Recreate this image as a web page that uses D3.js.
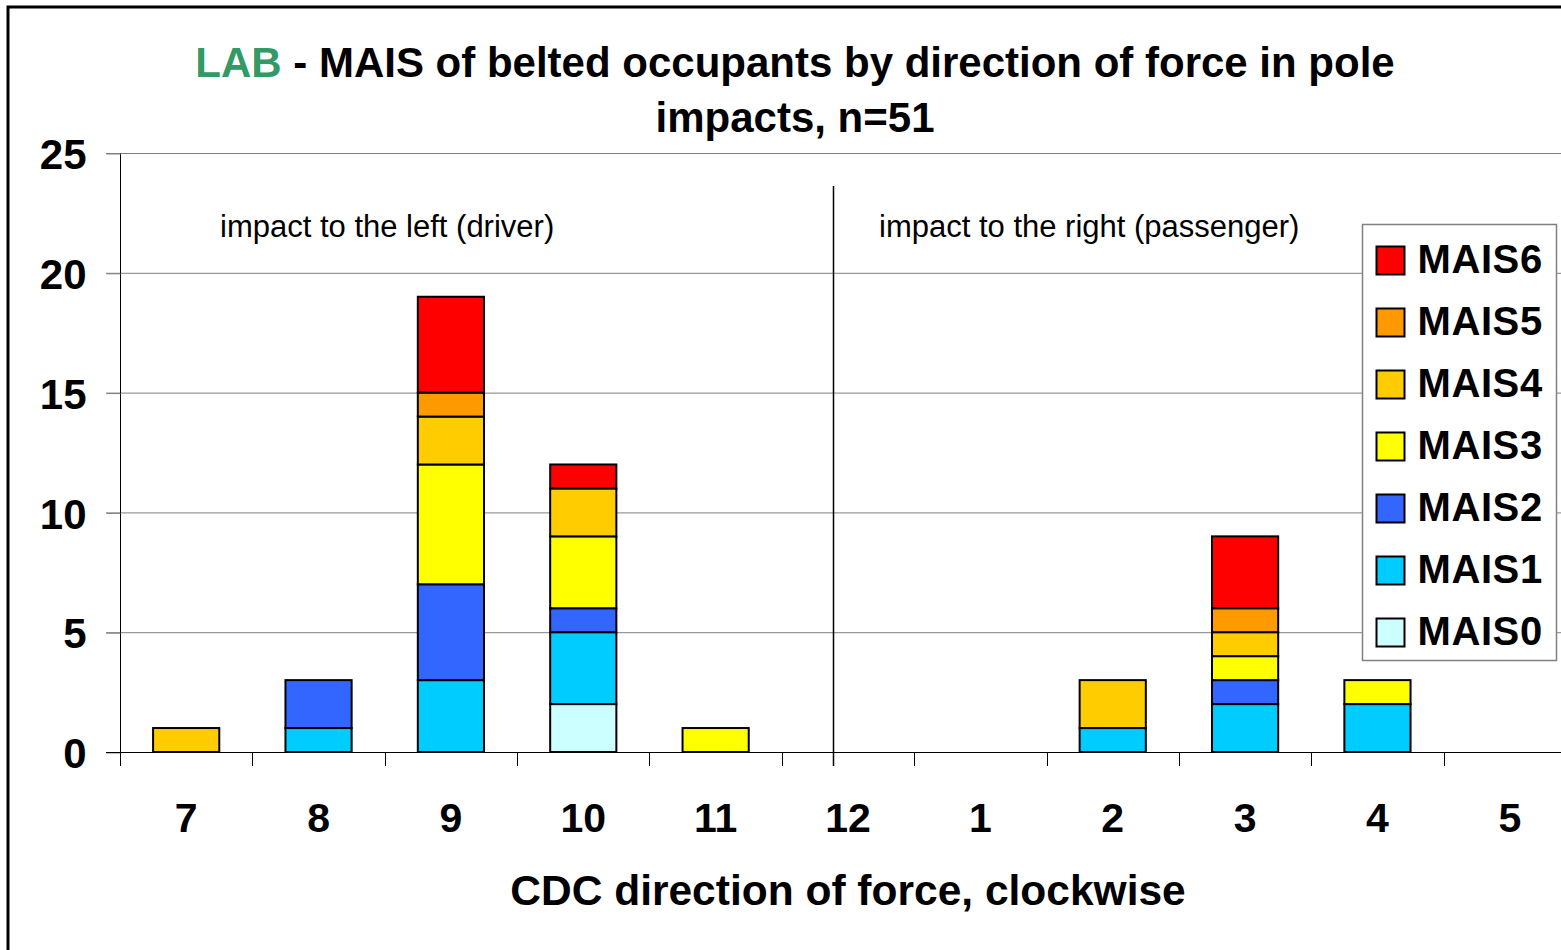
<!DOCTYPE html>
<html lang="en">
<head>
    <meta charset="utf-8">
    <style>
        body { margin: 0; background: #fff; }
        svg { display: block; font-family: "Liberation Sans", Arial, sans-serif; }
        .grid line { stroke: #808080; stroke-width: 1; }
        .bar rect { stroke: #000; stroke-width: 2; }
    </style>
    <script src="https://cdn.jsdelivr.net/npm/d3@7"></script>
</head>
<body>
<svg id="mainSVG" width="1561" height="950"></svg>
<script>
    // direction of force (clock position)
    var directions = ["7", "8", "9", "10", "11", "12", "1", "2", "3", "4", "5"];
    var levels = ["MAIS0", "MAIS1", "MAIS2", "MAIS3", "MAIS4", "MAIS5", "MAIS6"];
    var colors = ["#CCFFFF", "#00CCFF", "#3366FF", "#FFFF00", "#FFCC00", "#FF9900", "#FF0000"];

    var mais0 = [0, 0, 0, 2, 0, 0, 0, 0, 0, 0, 0];
    var mais1 = [0, 1, 3, 3, 0, 0, 0, 1, 2, 2, 0];
    var mais2 = [0, 2, 4, 1, 0, 0, 0, 0, 1, 0, 0];
    var mais3 = [0, 0, 5, 3, 1, 0, 0, 0, 1, 1, 0];
    var mais4 = [1, 0, 2, 2, 0, 0, 0, 2, 1, 0, 0];
    var mais5 = [0, 0, 1, 0, 0, 0, 0, 0, 1, 0, 0];
    var mais6 = [0, 0, 4, 1, 0, 0, 0, 0, 3, 0, 0];
    var yTicks = [0, 5, 10, 15, 20, 25];

    var series = [mais0, mais1, mais2, mais3, mais4, mais5, mais6];
    var rows = directions.map(function (d, i) {
        var r = { dir: d };
        levels.forEach(function (l, j) { r[l] = series[j][i]; });
        return r;
    });

    var svg = d3.select("#mainSVG");
    var plotLeft = 120, plotRight = 1576, plotTop = 153, plotBottom = 752;

    var x = d3.scaleBand().domain(directions).range([plotLeft, plotRight]).paddingInner(0.5).paddingOuter(0.25);
    var y = d3.scaleLinear().domain([0, 25]).range([plotBottom, plotTop]);
    var color = d3.scaleOrdinal().domain(levels).range(colors);

    // outer frame
    svg.append("rect")
        .attr("x", 8).attr("y", 7)
        .attr("width", 1600).attr("height", 1000)
        .attr("fill", "none").attr("stroke", "#000").attr("stroke-width", 3);

    // title
    var title = svg.append("text")
        .attr("x", 795).attr("y", 77)
        .attr("text-anchor", "middle")
        .attr("font-size", 42).attr("font-weight", "bold");
    title.append("tspan").attr("fill", "#339966").text("LAB");
    title.append("tspan").attr("fill", "#000").text(" - MAIS of belted occupants by direction of force in pole");
    svg.append("text")
        .attr("x", 795).attr("y", 132)
        .attr("text-anchor", "middle")
        .attr("font-size", 42).attr("font-weight", "bold")
        .text("impacts, n=51");

    // grid
    svg.append("g").attr("class", "grid")
        .selectAll("line")
        .data(yTicks.filter(function (d) { return d > 0; }))
        .enter().append("line")
        .attr("x1", 106).attr("x2", 1561)
        .attr("y1", function (d) { return y(d) + 0.5; })
        .attr("y2", function (d) { return y(d) + 0.5; });

    // y axis
    var yAxis = svg.append("g")
        .attr("transform", "translate(" + (plotLeft + 0.5) + ",0.5)")
        .call(d3.axisLeft(y).tickValues(yTicks).tickSize(14).tickPadding(20));
    yAxis.selectAll("line").attr("stroke", "#808080");
    yAxis.select(".domain").attr("stroke", "#000").attr("d", "M0," + plotTop + "V" + plotBottom);
    yAxis.selectAll("text")
        .attr("font-size", 42).attr("font-weight", "bold")
        .attr("font-family", "Liberation Sans, Arial, sans-serif")
        .attr("fill", "#000").attr("dy", "0.36em");

    // bars
    var stack = d3.stack().keys(levels)(rows);
    svg.append("g").attr("class", "bar")
        .selectAll("g")
        .data(stack)
        .enter().append("g")
        .attr("fill", function (d) { return color(d.key); })
        .selectAll("rect")
        .data(function (d) { return d.filter(function (p) { return p[1] > p[0]; }); })
        .enter().append("rect")
        .attr("x", function (d) { return x(d.data.dir); })
        .attr("width", x.bandwidth())
        .attr("y", function (d) { return y(d[1]); })
        .attr("height", function (d) { return y(d[0]) - y(d[1]); });

    // x axis: baseline and ticks between categories
    svg.append("line")
        .attr("x1", 106).attr("x2", 1561)
        .attr("y1", plotBottom + 0.5).attr("y2", plotBottom + 0.5)
        .attr("stroke", "#000").attr("stroke-width", 1);
    var xAxis = svg.append("g")
        .attr("transform", "translate(0," + plotBottom + ")")
        .call(d3.axisBottom(x).tickSize(0).tickPadding(51));
    xAxis.select(".domain").remove();
    xAxis.selectAll("text")
        .attr("font-size", 41).attr("font-weight", "bold")
        .attr("font-family", "Liberation Sans, Arial, sans-serif")
        .attr("fill", "#000");
    svg.append("g")
        .selectAll("line")
        .data(directions)
        .enter().append("line")
        .attr("x1", function (d) { return Math.round(x(d) - (x.step() - x.bandwidth()) / 2) + 0.5; })
        .attr("x2", function (d) { return Math.round(x(d) - (x.step() - x.bandwidth()) / 2) + 0.5; })
        .attr("y1", plotBottom).attr("y2", plotBottom + 14)
        .attr("stroke", "#000");

    // x axis title
    svg.append("text")
        .attr("x", 848).attr("y", 905)
        .attr("text-anchor", "middle")
        .attr("font-size", 42.5).attr("font-weight", "bold")
        .text("CDC direction of force, clockwise");

    // left / right divider
    svg.append("line")
        .attr("x1", 833.5).attr("x2", 833.5)
        .attr("y1", 186).attr("y2", 766)
        .attr("stroke", "#000").attr("stroke-width", 1.5);

    svg.append("text")
        .attr("x", 220).attr("y", 237)
        .attr("font-size", 31)
        .text("impact to the left (driver)");
    svg.append("text")
        .attr("x", 879).attr("y", 237)
        .attr("font-size", 31)
        .text("impact to the right (passenger)");

    // legend
    var lg = svg.append("g").attr("transform", "translate(1362.5,224.5)");
    lg.append("rect")
        .attr("width", 194).attr("height", 436)
        .attr("fill", "#fff").attr("stroke", "#808080").attr("stroke-width", 1.5);
    var items = lg.selectAll("g.item")
        .data(levels.slice().reverse())
        .enter().append("g")
        .attr("class", "item")
        .attr("transform", function (d, i) { return "translate(0," + (22 + i * 62) + ")"; });
    items.append("rect")
        .attr("x", 14).attr("width", 28).attr("height", 28)
        .attr("fill", function (d) { return color(d); })
        .attr("stroke", "#000").attr("stroke-width", 2);
    items.append("text")
        .attr("x", 55).attr("y", 26)
        .attr("font-size", 40).attr("font-weight", "bold")
        .attr("letter-spacing", 0.6)
        .text(function (d) { return d; });
</script>
</body>
</html>
